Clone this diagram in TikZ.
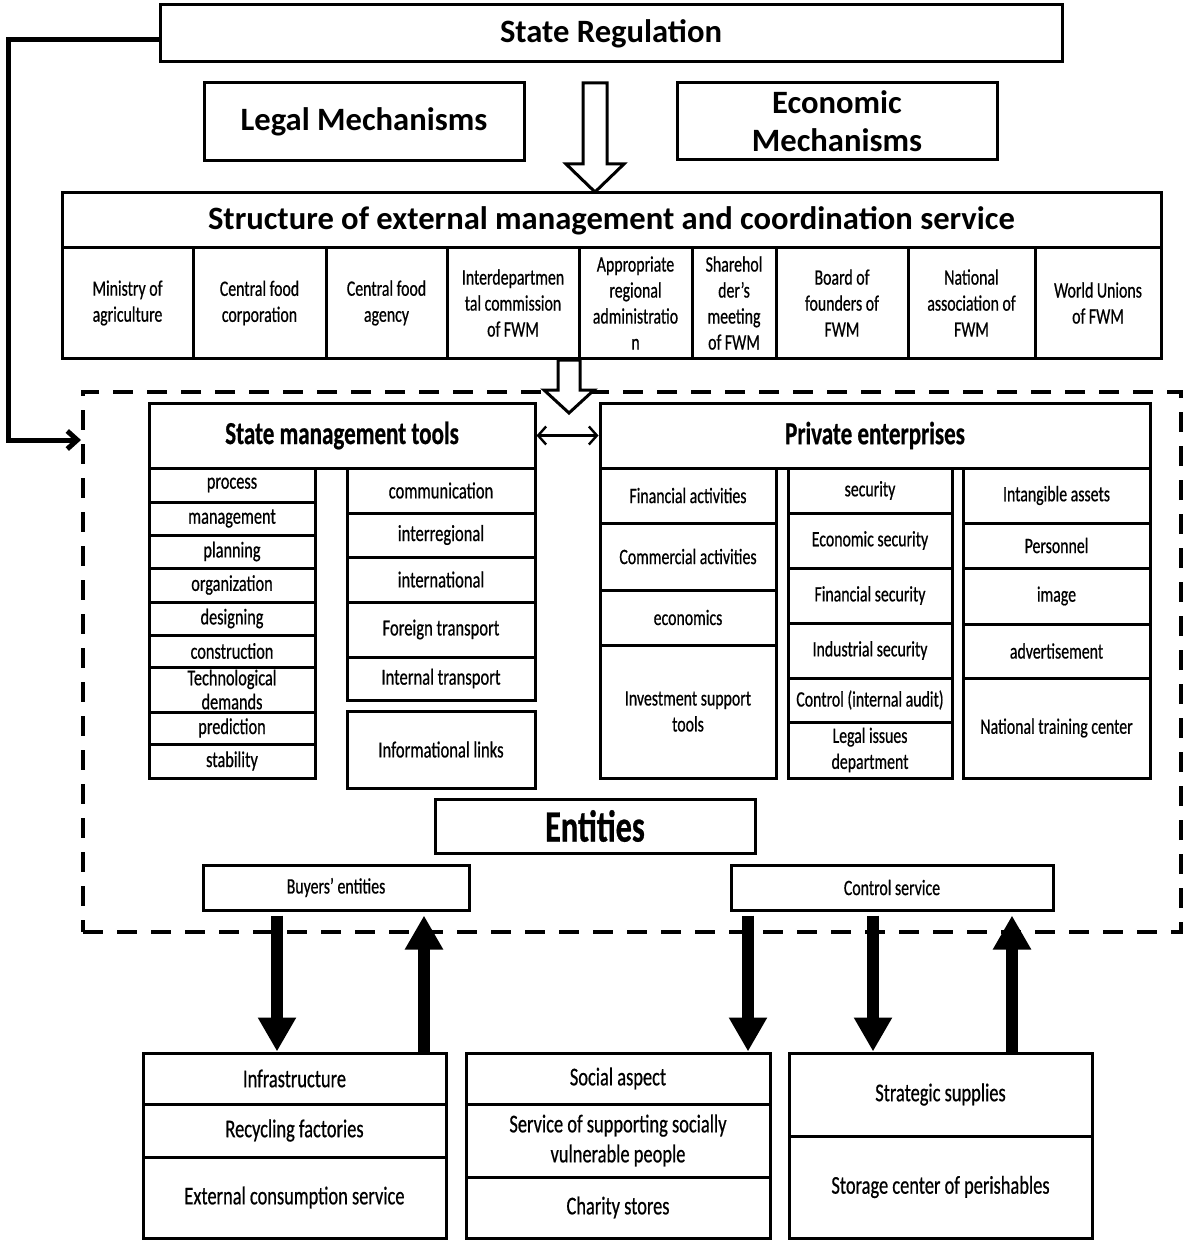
\documentclass[tikz,border=0pt]{standalone}
\usepackage{fontspec}
\setmainfont{Carlito}
\newfontfamily\cnd[FakeStretch=0.72,FakeBold=0.6]{Carlito}
\usetikzlibrary{arrows.meta}
\newcommand\bx[7]{\pgfmathsetmacro\bxw{(#4-#2)*0.5}\pgfmathsetmacro\bxh{(#5-#3)*0.5}\node[box,#6,minimum width=\bxw pt,minimum height=\bxh pt] (#1) at ({(#2+#4)/2},{(#3+#5)/2}) {#7};}
\tikzset{
 box/.style={draw,line width=1.5pt,inner sep=0pt,align=center,fill=white},
 big/.style={font=\bfseries\fontsize{16.3}{19}\selectfont},
 hd/.style={font=\cnd\bfseries\fontsize{16}{18}\selectfont},
 cell/.style={font=\cnd\fontsize{11}{13}\selectfont},
 lst/.style={font=\cnd\fontsize{11.3}{11}\selectfont},
 rls/.style={font=\cnd\fontsize{11.5}{13}\selectfont},
 pe/.style={font=\cnd\fontsize{11}{13}\selectfont},
 ent/.style={font=\cnd\fontsize{11}{12}\selectfont},
 bot/.style={font=\cnd\fontsize{12.8}{15}\selectfont},
 zone/.style={draw,line width=2pt,dash pattern=on 10pt off 7pt,inner sep=0pt,fill=none},
 hollow/.style={draw,line width=1.5pt,fill=white,line join=miter},
 bigarrow/.style={line width=6pt,-{Triangle[width=18pt,length=17pt]}},
 link/.style={line width=2.5pt,line join=miter},
}
\begin{document}
\begin{tikzpicture}[x=0.5pt,y=-0.5pt]
\useasboundingbox (0,0) rectangle (1183,1241);
% dashed zone
\bx{zone}{83}{392}{1181}{932}{zone}{}
% top
\bx{sr}{160}{5}{1062}{62}{big}{State Regulation}
\bx{lm}{204}{83}{524}{161}{big}{Legal Mechanisms}
\bx{em}{677}{83}{997}{160}{big}{Economic\\Mechanisms}
\draw[hollow] (583,83) -- (607,83) -- (607,164) -- (624,164) -- (595,192) -- (566,164) -- (583,164) -- cycle;
% structure
\bx{st}{62}{193}{1161}{248}{big}{Structure of external management and coordination service}
\bx{s1}{62}{248}{193}{358}{cell}{Ministry of\\agriculture}
\bx{s2}{193}{248}{326}{358}{cell}{Central food\\corporation}
\bx{s3}{326}{248}{447}{358}{cell}{Central food\\agency}
\bx{s4}{447}{248}{579}{358}{cell}{Interdepartmen\\tal commission\\of FWM}
\bx{s5}{579}{248}{692}{358}{cell}{Appropriate\\regional\\administratio\\n}
\bx{s6}{692}{248}{776}{358}{cell}{Sharehol\\der’s\\meeting\\of FWM}
\bx{s7}{776}{248}{908}{358}{cell}{Board of\\founders of\\FWM}
\bx{s8}{908}{248}{1035}{358}{cell}{National\\association of\\FWM}
\bx{s9}{1035}{248}{1161}{358}{cell}{World Unions\\of FWM}
\draw[hollow] (558,360) -- (580,360) -- (580,390) -- (594,390) -- (569,413) -- (544,390) -- (558,390) -- cycle;
% state management tools
\bx{smt}{149}{403}{535}{468}{hd}{State management tools}
\bx{l1}{149}{468}{315}{502}{lst}{process}
\bx{l2}{149}{502}{315}{535}{lst}{management}
\bx{l3}{149}{535}{315}{568}{lst}{planning}
\bx{l4}{149}{568}{315}{602}{lst}{organization}
\bx{l5}{149}{602}{315}{635}{lst}{designing}
\bx{l6}{149}{635}{315}{667}{lst}{construction}
\bx{l7}{149}{667}{315}{712}{font=\cnd\fontsize{11.3}{12}\selectfont}{Technological\\demands}
\bx{l8}{149}{712}{315}{744}{lst}{prediction}
\bx{l9}{149}{744}{315}{778}{lst}{stability}
\bx{r1}{347}{468}{535}{513}{rls}{communication}
\bx{r2}{347}{513}{535}{557}{rls}{interregional}
\bx{r3}{347}{557}{535}{602}{rls}{international}
\bx{r4}{347}{602}{535}{657}{rls}{Foreign transport}
\bx{r5}{347}{657}{535}{700}{rls}{Internal transport}
\bx{r6}{347}{711}{535}{788}{rls}{Informational links}
% private enterprises
\bx{pe}{600}{403}{1150}{468}{hd}{Private enterprises}
\bx{p1}{600}{468}{776}{523}{pe}{Financial activities}
\bx{p2}{600}{523}{776}{590}{pe}{Commercial activities}
\bx{p3}{600}{590}{776}{645}{pe}{economics}
\bx{p4}{600}{645}{776}{778}{pe}{Investment support\\tools}
\bx{q1}{788}{468}{952}{513}{pe}{security}
\bx{q2}{788}{513}{952}{568}{pe}{Economic security}
\bx{q3}{788}{568}{952}{623}{pe}{Financial security}
\bx{q4}{788}{623}{952}{678}{pe}{Industrial security}
\bx{q5}{788}{678}{952}{722}{pe}{Control (internal audit)}
\bx{q6}{788}{722}{952}{778}{pe}{Legal issues\\department}
\bx{t1}{963}{468}{1150}{523}{pe}{Intangible assets}
\bx{t2}{963}{523}{1150}{568}{pe}{Personnel}
\bx{t3}{963}{568}{1150}{624}{pe}{image}
\bx{t4}{963}{624}{1150}{678}{pe}{advertisement}
\bx{t5}{963}{678}{1150}{778}{pe}{National training center}
\draw[line width=1.2pt,{Straight Barb[length=4pt,width=9pt]}-{Straight Barb[length=4pt,width=9pt]}] (smt.east) -- (pe.west);
% entities
\bx{en}{435}{799}{755}{853}{font=\cnd\bfseries\fontsize{22.4}{25}\selectfont}{Entities}
\bx{be}{203}{865}{469}{910}{ent}{Buyers’ entities}
\bx{cs}{731}{865}{1053}{910}{ent}{Control service}
% bottom boxes
\bx{a1}{143}{1053}{446}{1104}{bot}{Infrastructure}
\bx{a2}{143}{1104}{446}{1157}{bot}{Recycling factories}
\bx{a3}{143}{1157}{446}{1238}{bot}{External consumption service}
\bx{b1}{466}{1053}{770}{1104}{bot}{Social aspect}
\bx{b2}{466}{1104}{770}{1177}{bot}{Service of supporting socially\\vulnerable people}
\bx{b3}{466}{1177}{770}{1238}{bot}{Charity stores}
\bx{c1}{789}{1053}{1092}{1136}{bot}{Strategic supplies}
\bx{c2}{789}{1136}{1092}{1238}{bot}{Storage center of perishables}
% left link
\coordinate (lk1) at (8,40);
\coordinate (lk2) at (8,440);
\draw[link,-{Straight Barb[length=5pt,width=9pt]}] (sr.west |- lk1) -- (lk1) -- (lk2) -- (zone.west |- lk2);
% big arrows
\coordinate (xa) at (277,0);
\coordinate (xb) at (424,0);
\coordinate (xc) at (748,0);
\coordinate (xd) at (873,0);
\coordinate (xe) at (1012,0);
\draw[bigarrow,shorten <=2pt] (be.south -| xa) -- (a1.north -| xa);
\draw[bigarrow,shorten >=2pt] (a1.north -| xb) -- (be.south -| xb);
\draw[bigarrow,shorten <=2pt] (cs.south -| xc) -- (b1.north -| xc);
\draw[bigarrow,shorten <=2pt] (cs.south -| xd) -- (c1.north -| xd);
\draw[bigarrow,shorten >=2pt] (c1.north -| xe) -- (cs.south -| xe);
\end{tikzpicture}
\end{document}
